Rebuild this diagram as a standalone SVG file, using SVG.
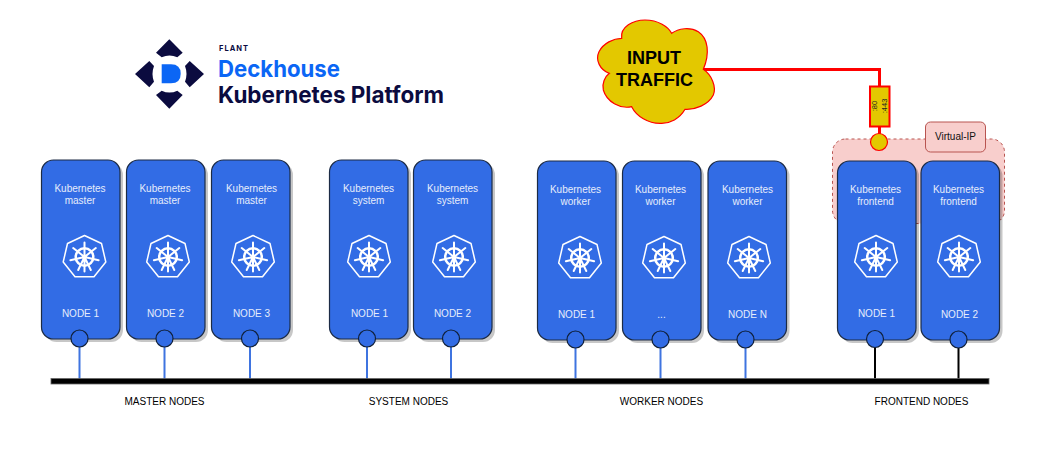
<svg xmlns="http://www.w3.org/2000/svg" width="1042" height="450" viewBox="0 0 1042 450">
<style>
text{font-family:"Liberation Sans",Arial,sans-serif}
.card{fill:#326ce5;stroke:#1c2b45;stroke-width:1.2}
.shadow{fill:#000;opacity:.22}
.port{fill:#326ce5;stroke:#10203a;stroke-width:1.2}
.lab{font-size:10px;fill:#e6edfb;text-anchor:middle}
.cap{font-size:10px;fill:#000;text-anchor:middle}
.link{stroke:#3f74e0;stroke-width:2;fill:none}
.linkb{stroke:#000;stroke-width:2;fill:none}
.red{stroke:#ff0000;stroke-width:3;fill:none}
.k{fill:none;stroke:#fff}
.logo{fill:#0b0b3f}
.brand{font-family:Inter,"Liberation Sans",sans-serif}
</style>
<defs>
<g id="k8s">
<path class="k" stroke-width="1.500" stroke-linejoin="round" d="M0-21.500 L17-13.500 L21.300 5 L9.500 19.800 L-9.500 19.800 L-21.300 5 L-17-13.500Z"/>
<circle class="k" r="8.800" stroke-width="2.500"/>
<circle fill="#fff" r="2.200"/>
<path class="k" stroke-width="2" stroke-linecap="round" d="M0-14.500V14.500M0 0 11.300-9M0 0 14.100 3.200M0 0 6.300 13M0 0-6.300 13M0 0-14.100 3.200M0 0-11.300-9"/>
</g>
<g id="node-shape">
<rect class="shadow" x="3.500" y="3" width="78.500" height="179" rx="12"/>
<rect class="card" x=".5" width="78.500" height="179" rx="12"/>
</g>
</defs>
<rect width="1042" height="450" fill="#fff"/>

<g id="logo">
<path class="logo" d="M169.300 39.300 182.700 52.700 177.300 57.300Q169.500 53.500 161.700 57.300L156 52.700ZM169.300 108.700 182.700 95 177.300 90.700Q169.500 94.500 161.700 90.700L156 95ZM135 74 149.300 61 154 66Q151 74 154 81.700L149.300 87.300ZM204 74 189.700 61 185 66Q188 74 185 81.700L189.700 87.300Z"/>
<path fill="#0b66f5" d="M161.700 64.300H171Q180.700 64.300 180.700 73.800Q180.700 83.300 171 83.300H161.700Z"/>
<text class="brand" x="219" y="51" font-size="7.500" font-weight="700" letter-spacing="1" fill="#0b0b3f">FLANT</text>
<text class="brand" x="218" y="77" font-size="23" font-weight="700" fill="#0b66f5" textLength="122" lengthAdjust="spacingAndGlyphs">Deckhouse</text>
<text class="brand" x="218" y="103" font-size="23" font-weight="700" fill="#0b0b3f" textLength="226" lengthAdjust="spacingAndGlyphs">Kubernetes Platform</text>
</g>

<g id="virtual-ip-zone">
<rect x="832.500" y="139" width="172" height="84.500" rx="13" fill="#f8cecc" stroke="#b85450" stroke-dasharray="3 3"/>
</g>

<g id="connectors">
<path class="red" d="M704 69.500H879.500V86"/>
<path class="red" d="M879.500 126V134"/>
<path class="link" d="M79.500 346V379M164.500 346V379M250 346V379M367 346V379M451 346V379M575.500 347V379M660.500 347V379M745.500 347V379"/>
<path class="linkb" d="M875 347V379M958.500 347V379"/>
</g>

<g id="bus"><rect x="51" y="378.500" width="938" height="5.500" fill="#000" stroke="#666" stroke-width=".8"/></g>

<g id="input-traffic">
<path transform="translate(590 10) scale(.3333)" fill="#e3c800" stroke="#ff0000" stroke-width="3.600" d="M95 85C90 50 130 30 165 30C205 30 235 50 245 70C265 55 300 50 325 65C355 85 360 130 340 178C365 195 380 230 370 255C355 285 315 300 285 298C270 325 240 342 210 340C175 340 140 320 125 290C90 298 50 275 40 240C35 220 45 200 58 190C30 180 15 150 27 125C40 100 70 85 95 85Z"/>
<text x="654" y="64.300" font-size="18" font-weight="700" text-anchor="middle">INPUT</text>
<text x="654.500" y="86" font-size="18" font-weight="700" text-anchor="middle">TRAFFIC</text>
</g>

<g id="port-box">
<rect x="870" y="86.500" width="19.500" height="40" fill="#e3c800" stroke="#ff0000" stroke-width="2"/>
<text transform="translate(877 106) rotate(-90)" font-size="7.500" text-anchor="middle" fill="#222">:80</text>
<text transform="translate(887 106) rotate(-90)" font-size="7.500" text-anchor="middle" fill="#222">:443</text>
<circle cx="879" cy="142" r="8.500" fill="#e3c800" stroke="#ff0000" stroke-width="1.200"/>
</g>

<g id="virtual-ip">
<rect x="925.500" y="122" width="60" height="30" rx="5" fill="#f8cecc" stroke="#b85450"/>
<text x="955.500" y="140" font-size="10" text-anchor="middle" fill="#111">Virtual-IP</text>
</g>

<g id="master-1"><use href="#node-shape" x="41" y="160"/><text class="lab" x="80" y="192">Kubernetes</text><text class="lab" x="80" y="204">master</text><use href="#k8s" x="84.500" y="257"/><text class="lab" x="80.500" y="317">NODE 1</text><circle class="port" cx="79.500" cy="338.500" r="8.500"/></g>
<g id="master-2"><use href="#node-shape" x="126" y="160"/><text class="lab" x="165" y="192">Kubernetes</text><text class="lab" x="165" y="204">master</text><use href="#k8s" x="168" y="257"/><text class="lab" x="165.500" y="317">NODE 2</text><circle class="port" cx="164.500" cy="338.500" r="8.500"/></g>
<g id="master-3"><use href="#node-shape" x="211" y="160"/><text class="lab" x="251.500" y="192">Kubernetes</text><text class="lab" x="251.500" y="204">master</text><use href="#k8s" x="253" y="257"/><text class="lab" x="251.500" y="317">NODE 3</text><circle class="port" cx="250" cy="338.500" r="8.500"/></g>

<g id="system-1"><use href="#node-shape" x="329" y="160"/><text class="lab" x="368.500" y="192">Kubernetes</text><text class="lab" x="368.500" y="204">system</text><use href="#k8s" x="369" y="257"/><text class="lab" x="369.500" y="317">NODE 1</text><circle class="port" cx="367" cy="338.500" r="8.500"/></g>
<g id="system-2"><use href="#node-shape" x="413" y="160"/><text class="lab" x="452.500" y="192">Kubernetes</text><text class="lab" x="452.500" y="204">system</text><use href="#k8s" x="454" y="257"/><text class="lab" x="452.500" y="317">NODE 2</text><circle class="port" cx="451" cy="338.500" r="8.500"/></g>

<g id="worker-1"><use href="#node-shape" x="537" y="161"/><text class="lab" x="575.500" y="193">Kubernetes</text><text class="lab" x="575.500" y="205">worker</text><use href="#k8s" x="580" y="258"/><text class="lab" x="576.500" y="318">NODE 1</text><circle class="port" cx="575.500" cy="339.500" r="8.500"/></g>
<g id="worker-2"><use href="#node-shape" x="622" y="161"/><text class="lab" x="660.500" y="193">Kubernetes</text><text class="lab" x="660.500" y="205">worker</text><use href="#k8s" x="664" y="258"/><text class="lab" x="661.500" y="318">...</text><circle class="port" cx="660.500" cy="339.500" r="8.500"/></g>
<g id="worker-3"><use href="#node-shape" x="707.500" y="161"/><text class="lab" x="747.500" y="193">Kubernetes</text><text class="lab" x="747.500" y="205">worker</text><use href="#k8s" x="749" y="258"/><text class="lab" x="747.500" y="318">NODE N</text><circle class="port" cx="745.500" cy="339.500" r="8.500"/></g>

<g id="frontend-1"><use href="#node-shape" x="837" y="161"/><text class="lab" x="875.500" y="193">Kubernetes</text><text class="lab" x="875.500" y="205">frontend</text><use href="#k8s" x="876" y="257"/><text class="lab" x="876.500" y="317">NODE 1</text><circle class="port" cx="875" cy="339" r="8.500"/></g>
<g id="frontend-2"><use href="#node-shape" x="920.500" y="161"/><text class="lab" x="958.500" y="193">Kubernetes</text><text class="lab" x="958.500" y="205">frontend</text><use href="#k8s" x="959" y="257"/><text class="lab" x="959.500" y="318">NODE 2</text><circle class="port" cx="958.500" cy="339.500" r="8.500"/></g>

<g id="captions">
<text class="cap" x="164.500" y="405">MASTER NODES</text>
<text class="cap" x="408.500" y="405">SYSTEM NODES</text>
<text class="cap" x="661.500" y="405">WORKER NODES</text>
<text class="cap" x="921.500" y="405">FRONTEND NODES</text>
</g>
</svg>
